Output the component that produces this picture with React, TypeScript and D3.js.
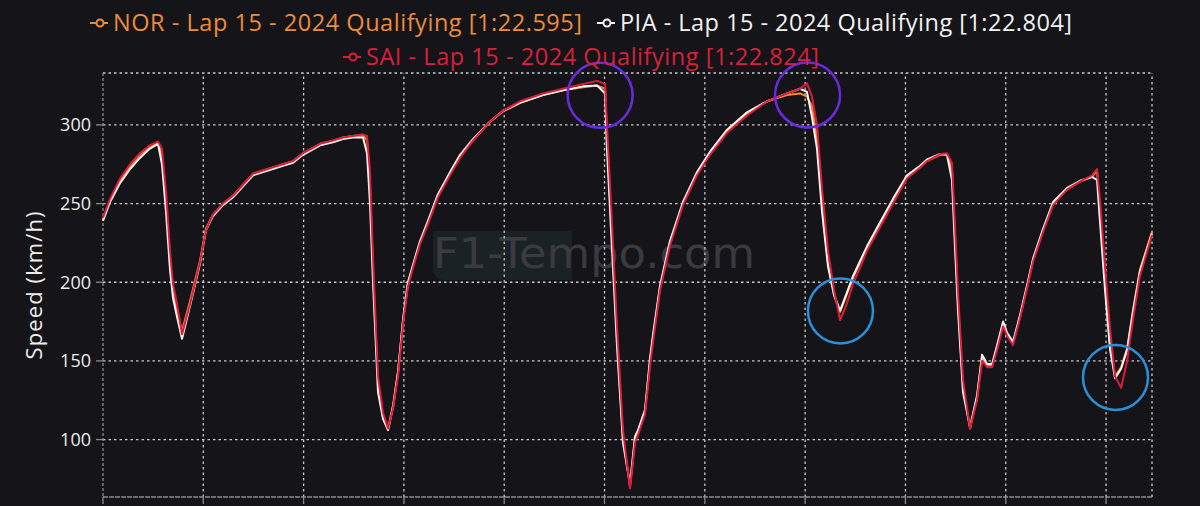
import React, { useEffect, useRef } from 'react';
import * as d3 from 'd3';

// Lap distance (m), shared by every driver trace
const distance = [
  0, 35, 85, 135, 184, 234, 274, 294, 314, 334,
  349, 369, 394, 434, 484, 513, 548, 598, 648, 698,
  748, 798, 847, 897, 947, 997, 1040, 1082, 1146, 1196,
  1246, 1296, 1316, 1331, 1346, 1371, 1396, 1421, 1446, 1471,
  1496, 1520, 1545, 1580, 1620, 1670, 1730, 1780, 1844, 1929,
  1994, 2079, 2193, 2293, 2393, 2463, 2503, 2512, 2537, 2562,
  2592, 2627, 2652, 2667, 2702, 2727, 2742, 2777, 2826, 2891,
  2961, 3026, 3111, 3210, 3310, 3410, 3475, 3509, 3534, 3559,
  3584, 3614, 3644, 3674, 3704, 3739, 3809, 3873, 3938, 4008,
  4073, 4108, 4173, 4207, 4232, 4247, 4262, 4287, 4322, 4357,
  4382, 4407, 4432, 4457, 4487, 4506, 4536, 4571, 4606, 4636,
  4686, 4736, 4806, 4870, 4930, 4955, 4970, 4995, 5020, 5045,
  5075, 5105, 5134, 5169, 5229,
];

const norSpeed = [
  240, 252, 265, 274, 281, 286, 289, 281, 252, 214,
  195, 182, 169, 188, 214, 234, 243, 250, 255, 262,
  269, 271, 273, 275, 277, 282, 285, 288, 290, 292,
  293, 293.5, 290, 261, 208, 133, 115, 107, 122, 144,
  176, 199, 210, 225, 238, 255, 269, 280, 290, 302,
  308.5, 314, 319, 322, 324, 325, 323, 292, 229, 165,
  101, 70, 101, 105, 118, 150, 165, 197, 225, 250,
  269, 282, 296, 307, 315, 319, 320, 318, 312, 292,
  250, 212, 192, 181, 191, 203, 222, 237, 252, 267,
  273, 277, 281, 281.5, 271, 229, 187, 133, 107, 127,
  152, 147, 147, 159, 174, 167, 161, 178, 197, 214,
  233, 250, 259, 264, 267, 271, 245, 200, 160, 140,
  146, 158, 182, 208, 232,
];

const piaSpeed = [
  239, 251, 263, 272, 279, 285, 288, 275, 245, 208,
  190, 178, 164, 185, 212, 233, 242, 249, 254, 261,
  268, 270, 272, 274, 276, 281, 284, 287, 289, 291,
  292, 292, 282, 250, 200, 130, 113, 106, 121, 143,
  177, 200, 211, 226, 239, 256, 270, 281, 291, 302,
  309, 314, 319, 322, 324.5, 325, 320, 285, 222, 160,
  98, 72, 102, 106, 119, 152, 167, 198, 226, 251,
  270, 283, 297, 308, 315, 320, 323, 321, 305, 285,
  245, 210, 192, 182, 192, 204, 223, 238, 253, 268,
  274, 278, 281.5, 281, 265, 222, 182, 130, 108, 128,
  154, 148, 148, 160, 175, 168, 162, 179, 198, 215,
  234, 251, 260, 264.5, 267, 265, 238, 195, 157, 139,
  145, 157, 181, 207, 231,
];

const saiSpeed = [
  241, 253, 266, 275, 282, 287, 289.5, 285, 258, 220,
  199, 186, 167, 186, 213, 233, 243, 250, 255, 262,
  269, 271, 273, 275, 277, 282, 285, 288, 290, 292,
  293, 294, 293, 270, 215, 140, 117, 107, 120, 141,
  174, 197, 209, 224, 237, 254, 268, 279, 290, 302,
  309, 315, 320, 323, 326, 328, 326, 300, 238, 172,
  106, 69, 98, 103, 116, 147, 162, 195, 223, 249,
  268, 281, 295, 306, 315, 320, 323, 326.5, 318, 300,
  260, 220, 195, 176, 185, 199, 220, 235, 250, 266,
  273, 277, 281.5, 282, 276, 236, 194, 138, 107, 125,
  150, 146, 146, 157, 172, 166, 160, 177, 196, 213,
  232, 249, 259, 264, 268, 272, 252, 210, 170, 140,
  133, 150, 176, 204, 230,
];

const drivers = ['NOR', 'PIA', 'SAI'];
const legendLabels = [
  'NOR - Lap 15 - 2024 Qualifying [1:22.595]',
  'PIA - Lap 15 - 2024 Qualifying [1:22.804]',
  'SAI - Lap 15 - 2024 Qualifying [1:22.824]',
];
const speedTicks = [100, 150, 200, 250, 300];
const distanceTicks = [500, 1000, 1500, 2000, 2500, 3000, 3500, 4000, 4500, 5000];

// highlight rings (distance, speed)
const highlightDistance = [2478, 3512, 3676, 5047];
const highlightSpeed = [318.8, 319, 181.8, 139.5];
const highlightKind = ['top', 'top', 'min', 'min'];

export default function App() {
  const svgRef = useRef<SVGSVGElement>(null);

  useEffect(() => {
    if (!svgRef.current) return;
    const W = 1200;
    const H = 506;
    const svg = d3.select(svgRef.current);
    svg.selectAll('*').remove();

    const bg = '#151418';
    const colors: Record<string, string> = { NOR: '#f28a30', PIA: '#f4f4f4', SAI: '#dc1c3a' };
    const textColors: Record<string, string> = { NOR: '#ec8c3c', PIA: '#f2f2f2', SAI: '#d8203c' };
    const font = '"Open Sans", "Noto Sans", sans-serif';

    svg.append('rect').attr('width', W).attr('height', H).attr('fill', bg);

    const x = d3.scaleLinear().domain([0, 5229]).range([103, 1152]);
    const y = d3.scaleLinear().domain([63.5, 333]).range([497, 73]);

    // watermark
    const wm = svg.append('g');
    wm.append('path')
      .attr('d', 'M433,231 H572 V280 H446 Q433,280 433,267 Z')
      .attr('fill', '#1a2226');
    wm.append('text')
      .attr('x', 433)
      .attr('y', 268)
      .attr('textLength', 322)
      .attr('lengthAdjust', 'spacingAndGlyphs')
      .style('font-family', '"DejaVu Sans", sans-serif')
      .style('font-size', '42px')
      .style('fill', '#3b3b3f')
      .text('F1-Tempo.com');

    // grid
    const grid = svg.append('g')
      .attr('stroke', '#c9c9c9')
      .attr('stroke-width', 1.3)
      .attr('stroke-dasharray', '2.5,3');
    grid.selectAll('line.h')
      .data([...speedTicks, 333])
      .join('line')
      .attr('x1', x(0)).attr('x2', x(5229))
      .attr('y1', d => y(d)).attr('y2', d => y(d));
    grid.selectAll('line.v')
      .data([...distanceTicks, 5229])
      .join('line')
      .attr('class', 'v')
      .attr('y1', y(63.5)).attr('y2', y(333))
      .attr('x1', d => x(d)).attr('x2', d => x(d));

    // axes
    const axes = svg.append('g').attr('stroke', '#8a8a8a').attr('stroke-width', 1.3);
    axes.append('line')
      .attr('x1', x(0)).attr('x2', x(0))
      .attr('y1', y(333)).attr('y2', y(63.5))
      .attr('stroke-dasharray', '3,2');
    axes.append('line')
      .attr('x1', x(0)).attr('x2', x(5229))
      .attr('y1', y(63.5)).attr('y2', y(63.5))
      .attr('stroke-dasharray', '5,1');
    axes.selectAll('line.yt')
      .data(speedTicks)
      .join('line')
      .attr('class', 'yt')
      .attr('x1', x(0) - 7).attr('x2', x(0))
      .attr('y1', d => y(d)).attr('y2', d => y(d));
    axes.selectAll('line.xt')
      .data([0, ...distanceTicks])
      .join('line')
      .attr('class', 'xt')
      .attr('x1', d => x(d)).attr('x2', d => x(d))
      .attr('y1', y(63.5)).attr('y2', y(63.5) + 7);

    svg.append('g')
      .selectAll('text')
      .data(speedTicks)
      .join('text')
      .attr('x', x(0) - 12)
      .attr('y', d => y(d))
      .attr('dy', '0.35em')
      .attr('text-anchor', 'end')
      .style('font-family', font)
      .style('font-size', '18px')
      .style('fill', '#ececec')
      .text(d => d);

    svg.append('text')
      .attr('transform', `translate(42,${y(198)}) rotate(-90)`)
      .attr('text-anchor', 'middle')
      .style('font-family', font)
      .style('font-size', '22px')
      .attr('textLength', 148)
      .style('fill', '#ececec')
      .text('Speed (km/h)');

    // traces
    const series: Record<string, number[]> = { NOR: norSpeed, PIA: piaSpeed, SAI: saiSpeed };
    const line = d3.line<number>()
      .x((_, i) => x(distance[i]))
      .y(d => y(d));
    drivers.forEach(dr => {
      svg.append('path')
        .datum(series[dr])
        .attr('d', line)
        .attr('fill', 'none')
        .attr('stroke', colors[dr])
        .attr('stroke-width', 2)
        .attr('stroke-linejoin', 'round');
    });

    // highlight rings
    svg.append('g')
      .selectAll('circle')
      .data(highlightDistance)
      .join('circle')
      .attr('cx', d => x(d))
      .attr('cy', (_, i) => y(highlightSpeed[i]))
      .attr('r', 32.5)
      .attr('fill', 'none')
      .attr('stroke', (_, i) => (highlightKind[i] === 'top' ? '#6a2be0' : '#2b8fdc'))
      .attr('stroke-width', 2.5);

    // legend
    const legendPos = [
      { ix: 99, tx: 113, ty: 31, len: 469 },
      { ix: 606, tx: 620, ty: 31, len: 452 },
      { ix: 352, tx: 366, ty: 65, len: 453 },
    ];
    drivers.forEach((dr, i) => {
      const p = legendPos[i];
      const g = svg.append('g');
      const cy = p.ty - 8;
      g.append('line')
        .attr('x1', p.ix - 9).attr('x2', p.ix + 9)
        .attr('y1', cy).attr('y2', cy)
        .attr('stroke', colors[dr]).attr('stroke-width', 2);
      g.append('circle')
        .attr('cx', p.ix + 1).attr('cy', cy).attr('r', 3.5)
        .attr('fill', bg).attr('stroke', colors[dr]).attr('stroke-width', 2);
      g.append('text')
        .attr('x', p.tx)
        .attr('y', p.ty)
        .attr('textLength', p.len)
        .style('font-family', font)
        .style('font-size', '23.5px')
        .style('fill', textColors[dr])
        .text(legendLabels[i]);
    });
  }, []);

  return (
    <div style={{ position: 'fixed', left: 0, top: 0, width: 1200, height: 506 }}>
      <svg ref={svgRef} width={1200} height={506} style={{ display: 'block' }} />
    </div>
  );
}
